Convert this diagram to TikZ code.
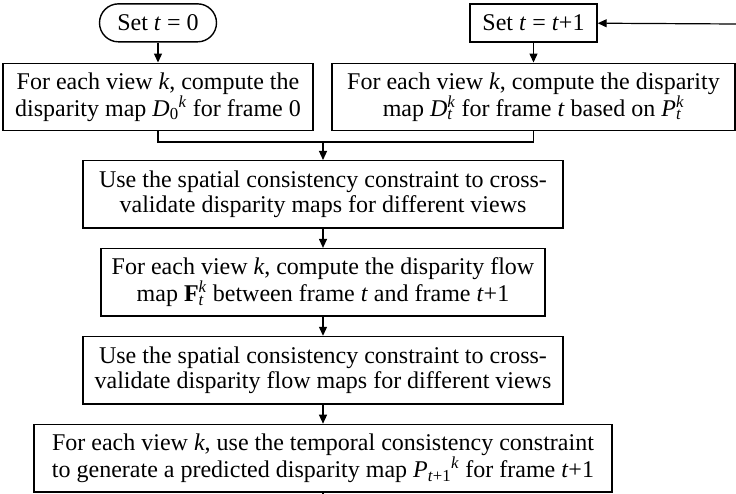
\documentclass[tikz,border=0pt]{standalone}
\usepackage{fontspec}
\setmainfont{Liberation Serif}
\usetikzlibrary{arrows.meta, positioning}
\newcommand{\stk}[2]{\rlap{\textsubscript{#1}}\textsuperscript{#2}}

\begin{document}
\begin{tikzpicture}[
    node distance=19pt,
    process/.style={rectangle, draw, line width=1.4pt, minimum height=67.5pt, inner sep=0pt, align=center, font=\fontsize{24pt}{25.5pt}\selectfont},
    terminal/.style={rectangle, rounded corners=19pt, draw, line width=1.4pt, minimum width=117pt, minimum height=38pt, inner sep=0pt, font=\fontsize{24pt}{25.5pt}\selectfont},
    setbox/.style={rectangle, draw, line width=1.4pt, minimum width=127pt, minimum height=38pt, inner sep=0pt, font=\fontsize{24pt}{25.5pt}\selectfont},
    line/.style={line width=1.2pt},
    arrow/.style={line width=1.2pt, -{Triangle[length=9pt, width=8pt]}}
]
\useasboundingbox (0,0) rectangle (736pt,-494pt);

% Nodes
\node (dispzero) [process, minimum width=310pt] at (158pt,-97pt) {For each view \textit{k}, compute the\\disparity map \textit{D}\textsubscript{0}\textsuperscript{\textit{k}} for frame 0};
\node (disp) [process, minimum width=403pt] at (533.5pt,-97pt) {For each view \textit{k}, compute the disparity\\map \textit{D}\stk{\textit{t}}{\textit{k}} for frame \textit{t} based on \textit{P}\stk{\textit{t}}{\textit{k}}};
\node (start) [terminal, above=20pt of dispzero] {Set \textit{t} = 0};
\node (incr) [setbox, above=20pt of disp] {Set \textit{t} = \textit{t}+1};
\coordinate (join) at (323pt,-142pt);
\node (spatial) [process, minimum width=480pt, below=18pt of join] {Use the spatial consistency constraint to cross-\\validate disparity maps for different views};
\node (flow) [process, minimum width=444pt, below=of spatial] {For each view \textit{k}, compute the disparity flow\\map \textbf{F}\stk{\textit{t}}{\textit{k}} between frame \textit{t} and frame \textit{t}+1};
\node (flowcheck) [process, minimum width=480pt, below=of flow] {Use the spatial consistency constraint to cross-\\validate disparity flow maps for different views};
\node (predict) [process, minimum width=578pt, below=of flowcheck] {For each view \textit{k}, use the temporal consistency constraint\\to generate a predicted disparity map \textit{P}\textsubscript{\textit{t}+1}\textsuperscript{\textit{k}} for frame \textit{t}+1};
\coordinate (loopin) at (736pt,-24pt);
\coordinate (loopout) at (323pt,-494pt);

% Arrows
\draw [arrow] (start) -- (dispzero);
\draw [arrow] (incr) -- (disp);
\draw [arrow] (loopin) -- (incr);
\draw [line] (dispzero) |- (join) -| (disp);
\draw [arrow] (join) -- (spatial);
\draw [arrow] (spatial) -- (flow);
\draw [arrow] (flow) -- (flowcheck);
\draw [arrow] (flowcheck) -- (predict);
\draw [line] (predict) -- (loopout);

\end{tikzpicture}
\end{document}
